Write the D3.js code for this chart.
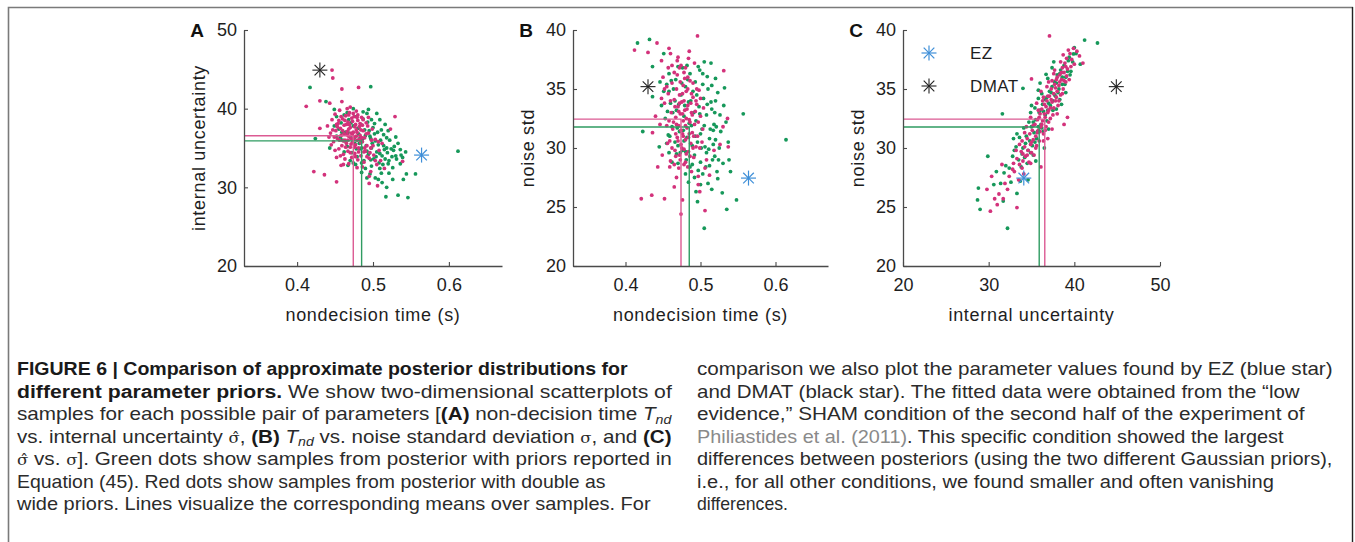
<!DOCTYPE html>
<html><head><meta charset="utf-8">
<script src="https://cdn.jsdelivr.net/npm/d3@7"></script>
<style>body{margin:0;background:#fff}svg{display:block}text{white-space:pre}</style>
</head><body>
<svg id="fig" width="1355" height="542"></svg>
<script>
// ---------------- DATA ----------------
// Panel A: [nondecision time, internal uncertainty]
const aPink = [[0.446,44.9],[0.447,43.9],[0.459,42.5],[0.481,42.7],[0.412,40.3],[0.430,41.0],[0.443,40.7],[0.459,40.9],[0.470,40.2],[0.422,32.0],[0.436,31.6],[0.452,30.7],[0.458,32.8],[0.529,39.0],[0.523,37.4],[0.495,30.5],[0.506,30.2],[0.539,33.3],[0.430,37.5],[0.450,34.7],[0.495,31.4],[0.497,32.0],
[0.440,37.8],[0.444,36.9],[0.446,38.6],[0.448,35.8],[0.450,39.3],[0.451,37.2],[0.453,36.2],[0.454,38.1],[0.455,34.9],[0.456,39.8],[0.457,37.5],[0.458,36.6],[0.459,35.3],[0.460,38.7],[0.461,34.2],[0.462,37.9],[0.463,36.0],[0.464,39.1],[0.465,35.6],[0.466,37.1],[0.467,38.3],[0.467,34.6],[0.468,36.5],[0.469,39.5],[0.470,35.1],[0.470,37.6],[0.471,36.2],[0.472,38.8],[0.472,33.8],[0.473,35.7],[0.474,37.0],[0.475,39.0],[0.475,36.4],[0.476,34.3],[0.477,38.0],[0.477,35.4],[0.478,37.3],[0.479,36.0],[0.480,38.5],[0.480,33.5],[0.481,35.0],[0.482,37.7],[0.483,36.6],[0.484,34.0],[0.485,38.9],[0.486,35.8],[0.487,37.2],[0.488,33.2],[0.489,36.3],[0.490,34.6],[0.491,38.2],[0.492,35.3],[0.494,36.9],[0.495,33.7],[0.497,35.0],[0.499,37.4],[0.501,34.1],[0.503,36.1],[0.505,32.9],[0.508,34.7],[0.510,33.4],[0.512,35.6],[0.515,32.4],[0.468,33.0],[0.463,33.6],[0.457,34.0],[0.445,35.4],[0.452,38.0],[0.478,39.7],[0.466,40.0],
[0.462,36.8],[0.465,38.0],[0.468,37.4],[0.471,36.9],[0.473,38.4],[0.476,37.7],[0.479,38.9],[0.482,36.1],[0.484,37.3],[0.487,38.6],[0.464,35.1],[0.467,36.0],[0.470,34.4],[0.473,36.8],[0.476,35.1],[0.479,37.0],[0.481,34.5],[0.484,35.7],[0.486,37.9],[0.489,35.0],[0.491,36.8],[0.493,37.8],[0.496,34.4],[0.498,36.0],[0.500,35.3],[0.460,37.2],[0.456,36.0],[0.453,37.7],[0.449,36.4],[0.458,39.0],[0.463,38.5],[0.469,38.0],[0.474,39.4],[0.480,39.2],[0.485,36.3],[0.488,34.5],[0.492,33.9],[0.477,33.9],[0.471,35.5],[0.466,36.7],[0.461,35.9],[0.474,36.1],[0.478,36.5],[0.483,38.1],[0.468,39.2],[0.455,38.5],[0.447,37.3],[0.442,36.4],[0.494,38.9],[0.503,33.4],[0.507,35.8],[0.486,32.6],[0.479,32.5],[0.461,32.9],[0.452,33.8]];
const aGreen = [[0.417,42.7],[0.497,42.8],[0.424,36.2],[0.438,40.9],[0.449,39.9],[0.452,39.0],[0.492,39.4],[0.498,38.6],[0.509,38.6],[0.505,39.4],[0.514,36.7],[0.518,35.0],[0.527,34.7],[0.536,34.8],[0.537,34.1],[0.531,33.6],[0.520,33.0],[0.536,33.0],[0.509,32.4],[0.511,31.8],[0.521,31.8],[0.544,31.7],[0.518,30.0],[0.517,28.8],[0.533,29.0],[0.546,28.7],[0.496,31.7],[0.467,32.8],[0.485,33.1],[0.443,35.0],[0.612,34.6],[0.556,31.7],
[0.455,37.4],[0.458,38.2],[0.460,36.0],[0.462,39.2],[0.464,37.0],[0.466,35.2],[0.468,38.6],[0.470,36.4],[0.472,34.4],[0.474,37.8],[0.476,35.6],[0.478,39.0],[0.479,33.9],[0.481,36.8],[0.483,34.9],[0.484,38.0],[0.486,36.1],[0.488,33.4],[0.489,37.3],[0.491,35.3],[0.493,38.3],[0.494,34.2],[0.496,36.5],[0.498,35.0],[0.500,37.6],[0.501,33.6],[0.503,35.9],[0.505,34.5],[0.506,37.0],[0.508,33.1],[0.510,36.0],[0.512,34.0],[0.514,35.3],[0.516,33.6],[0.519,34.4],[0.522,36.0],[0.525,33.9],[0.528,35.2],[0.503,31.2],[0.490,32.4],[0.477,32.9],[0.462,34.5],[0.457,36.3],[0.449,37.8],[0.474,40.0],[0.487,39.6],[0.497,36.2],[0.482,35.6],[0.470,33.4],
[0.467,37.0],[0.471,38.2],[0.475,36.2],[0.478,34.9],[0.480,37.5],[0.483,36.3],[0.485,35.0],[0.487,38.7],[0.490,36.6],[0.492,34.6],[0.495,37.2],[0.497,33.5],[0.499,35.6],[0.502,36.8],[0.504,33.9],[0.507,35.4],[0.509,34.3],[0.511,37.3],[0.513,32.9],[0.515,34.8],[0.518,36.3],[0.521,33.4],[0.524,34.9],[0.526,32.5],[0.530,34.0],[0.533,35.6],[0.539,33.8],[0.543,34.5],[0.507,31.0],[0.512,30.6],[0.498,32.7],[0.485,31.9],[0.474,33.1],[0.463,35.9],[0.459,37.0],[0.452,36.5],[0.466,39.5],[0.494,39.9],[0.502,38.1],[0.516,38.0],[0.520,37.2],[0.530,36.4],[0.492,31.2],[0.526,31.0],[0.540,31.0]];
// Panel B: [nondecision time, noise std]
const bPink = [[0.412,38.3],[0.430,38.1],[0.442,38.9],[0.458,38.45],[0.470,37.7],[0.484,37.6],[0.496,39.5],[0.472,36.8],[0.478,36.4],[0.531,36.55],[0.536,32.5],[0.526,30.3],[0.537,30.1],[0.506,28.3],[0.497,26.9],[0.499,26.3],[0.506,24.7],[0.421,25.7],[0.435,26.0],[0.452,25.7],[0.465,26.7],[0.476,25.6],[0.474,24.4],[0.468,27.5],[0.459,28.4],[0.443,28.4],[0.449,29.4],[0.497,27.6],[0.450,36.0],[0.448,37.4],[0.455,35.2],[0.508,29.0],[0.518,29.8],[0.512,27.7],[0.436,31.3],[0.440,32.7],[0.530,31.8],
[0.452,33.8],[0.455,31.9],[0.457,34.6],[0.459,30.6],[0.461,33.0],[0.462,35.5],[0.463,31.6],[0.465,34.1],[0.466,29.8],[0.467,32.6],[0.468,35.0],[0.469,30.9],[0.470,33.5],[0.471,31.9],[0.472,34.5],[0.472,29.4],[0.473,32.9],[0.474,30.3],[0.475,33.9],[0.476,31.2],[0.477,35.3],[0.477,32.3],[0.478,29.9],[0.479,33.2],[0.480,30.7],[0.481,34.8],[0.482,31.7],[0.483,33.6],[0.484,29.7],[0.485,32.4],[0.486,35.7],[0.487,30.4],[0.488,33.0],[0.489,31.3],[0.490,34.3],[0.491,29.2],[0.492,32.0],[0.494,30.1],[0.495,33.7],[0.496,31.0],[0.498,34.9],[0.500,32.7],[0.502,30.5],[0.504,33.4],[0.460,28.9],[0.465,28.6],[0.471,28.3],[0.480,28.8],[0.488,28.0],[0.469,36.2],[0.462,37.0],[0.483,36.0],[0.490,35.5],
[0.468,32.0],[0.471,33.1],[0.474,31.5],[0.476,32.9],[0.478,34.0],[0.480,31.9],[0.482,33.3],[0.484,30.9],[0.486,32.2],[0.488,34.6],[0.470,30.6],[0.473,35.6],[0.475,30.0],[0.477,31.0],[0.479,35.9],[0.481,32.5],[0.483,35.0],[0.485,31.2],[0.487,33.8],[0.489,32.8],[0.491,31.0],[0.493,33.1],[0.495,35.0],[0.497,32.2],[0.499,30.0],[0.464,32.2],[0.466,33.5],[0.460,34.0],[0.458,32.3],[0.456,30.4],[0.462,30.0],[0.467,31.2],[0.472,33.8],[0.476,34.6],[0.481,29.5],[0.486,29.3],[0.490,30.0],[0.473,29.0],[0.467,29.3],[0.478,28.6],[0.483,28.4],[0.494,34.0],[0.500,34.2],[0.503,31.6],[0.469,37.4],[0.474,37.0],[0.480,36.8],[0.465,36.4],[0.457,36.8],[0.460,38.0],[0.485,38.2],[0.492,37.2],[0.452,35.0],[0.448,34.2],[0.446,32.0]];
const bGreen = [[0.416,38.9],[0.432,39.2],[0.451,38.0],[0.436,36.9],[0.436,34.35],[0.423,31.4],[0.505,37.3],[0.499,36.6],[0.509,36.05],[0.523,34.7],[0.532,35.1],[0.557,32.9],[0.614,30.7],[0.515,33.3],[0.517,31.5],[0.537,30.5],[0.538,29.0],[0.519,29.3],[0.540,28.0],[0.523,27.4],[0.529,26.2],[0.496,25.45],[0.505,23.2],[0.535,24.8],[0.548,25.6],[0.484,27.1],[0.480,29.7],[0.457,31.1],[0.525,30.0],[0.512,28.5],[0.503,27.8],[0.515,26.5],[0.494,26.3],[0.446,35.6],[0.448,33.6],[0.445,30.1],[0.526,32.8],
[0.453,32.5],[0.455,35.4],[0.458,29.6],[0.460,33.8],[0.462,31.8],[0.464,35.0],[0.466,30.5],[0.468,33.2],[0.470,28.7],[0.472,31.4],[0.474,34.5],[0.476,29.8],[0.478,32.7],[0.480,35.2],[0.482,30.9],[0.484,33.9],[0.486,28.4],[0.488,31.9],[0.490,34.8],[0.492,29.4],[0.494,32.3],[0.496,30.5],[0.498,33.5],[0.500,28.8],[0.502,31.6],[0.504,34.2],[0.506,30.1],[0.508,32.8],[0.510,35.0],[0.512,30.8],[0.514,33.9],[0.516,29.0],[0.518,32.0],[0.520,30.7],[0.486,36.3],[0.493,35.6],[0.476,36.8],[0.466,34.0],[0.500,31.2],[0.489,30.2],[0.480,27.8],[0.470,30.2],[0.458,34.8],[0.508,29.6],[0.520,34.0],
[0.456,33.1],[0.459,31.0],[0.461,35.7],[0.463,33.0],[0.467,35.8],[0.469,31.7],[0.471,33.7],[0.473,29.6],[0.475,35.5],[0.477,31.5],[0.479,33.6],[0.481,29.0],[0.483,35.8],[0.485,32.1],[0.487,34.0],[0.489,28.6],[0.491,33.0],[0.493,31.0],[0.495,34.5],[0.497,28.1],[0.499,32.9],[0.501,30.0],[0.503,35.4],[0.505,31.9],[0.507,28.4],[0.509,33.7],[0.511,29.9],[0.513,31.6],[0.515,35.3],[0.517,30.3],[0.519,33.0],[0.521,31.8],[0.524,29.0],[0.527,31.4],[0.531,33.6],[0.534,32.2],[0.530,28.7],[0.522,28.0],[0.510,27.0],[0.500,26.9],[0.492,27.5],[0.478,30.6],[0.468,29.5],[0.462,28.8],[0.455,30.4],[0.451,34.8],[0.458,36.3],[0.470,36.9],[0.482,37.0],[0.497,36.9],[0.503,36.3],[0.514,37.2],[0.520,35.9]];
// Panel C: [internal uncertainty, noise std]
const cPink = [[37.1,39.5],[39.9,38.45],[40.3,38.2],[41.0,37.2],[35.0,35.85],[30.35,27.6],[30.2,24.65],[33.3,24.95],[30.7,25.7],[31.7,25.7],[31.2,26.1],[36.1,28.4],[31.55,28.6],[32.9,28.7],[32.2,26.5],[33.5,27.3],[29.8,26.5],[31.0,25.2],[34.7,28.8],[38.8,32.0],[39.2,32.6],[39.5,38.0],[40.6,37.8],[39.1,37.6],[37.0,35.6],
[33.0,28.0],[33.3,29.1],[33.6,28.6],[33.8,29.7],[34.0,28.9],[34.2,30.1],[34.3,29.3],[34.5,30.8],[34.6,29.8],[34.8,31.2],[34.9,30.3],[35.0,29.6],[35.1,31.5],[35.2,30.7],[35.4,32.0],[35.5,31.0],[35.6,30.2],[35.7,32.4],[35.8,31.5],[35.9,30.6],[36.0,32.9],[36.1,31.8],[36.2,33.3],[36.3,32.3],[36.4,31.2],[36.5,33.7],[36.6,32.6],[36.7,31.8],[36.8,34.0],[36.9,33.0],[37.0,32.2],[37.1,34.4],[37.2,33.4],[37.3,35.0],[37.4,33.9],[37.5,32.8],[37.6,34.6],[37.7,35.4],[37.8,34.0],[37.9,35.8],[38.0,34.8],[38.1,33.6],[38.2,35.3],[38.3,36.2],[38.4,34.5],[38.5,35.8],[38.6,36.8],[38.7,35.0],[38.8,36.4],[38.9,37.2],[39.0,35.6],[39.2,36.7],[39.4,35.8],[39.6,36.9],[36.4,34.3],[35.8,33.2],[37.6,36.3],[35.3,29.4],[34.4,31.8],[36.9,30.8],[33.9,30.6],[34.1,27.8],
[34.5,29.4],[35.0,30.5],[35.2,31.9],[35.5,30.0],[35.7,31.3],[35.9,32.6],[36.0,31.4],[36.2,32.0],[36.3,34.0],[36.5,32.9],[36.6,31.5],[36.7,33.5],[36.9,34.4],[37.0,33.2],[37.2,32.5],[37.3,34.1],[37.4,35.7],[37.6,33.4],[37.8,35.1],[37.9,34.3],[38.0,36.0],[38.2,34.0],[38.3,35.6],[38.5,36.4],[38.6,34.6],[38.8,35.7],[39.0,36.9],[39.1,36.1],[39.3,38.3],[39.7,37.5],[40.0,37.1],[38.7,37.9],[38.4,37.3],[37.7,36.6],[36.8,35.2],[36.1,34.8],[35.6,33.8],[34.9,32.6],[34.2,31.3],[33.6,30.3],[33.2,29.8],[32.8,28.2],[32.4,27.6],[31.9,27.0],[34.0,29.5],[36.4,30.6],[37.4,31.6],[38.0,32.9],[33.9,28.3],[34.9,28.7]];
const cGreen = [[41.2,39.15],[42.7,38.9],[39.9,37.97],[40.7,37.1],[36.7,36.24],[36.0,35.5],[34.0,35.06],[35.0,33.6],[31.6,32.9],[29.9,29.3],[28.8,26.6],[28.7,25.6],[29.0,24.8],[31.8,27.9],[31.7,25.5],[32.2,23.2],[33.3,26.15],[33.3,31.2],[38.3,34.1],[40.2,38.0],[39.6,36.5],[37.4,36.8],[35.8,34.9],[32.0,28.5],[33.0,29.8],[34.6,27.3],[30.9,28.0],[32.6,27.1],[33.6,30.9],[37.9,33.3],[39.0,34.7],
[33.5,29.0],[33.8,28.4],[34.0,30.0],[34.2,29.2],[34.4,31.0],[34.6,29.8],[34.8,30.6],[35.0,31.8],[35.1,30.2],[35.3,31.3],[35.5,32.4],[35.6,30.8],[35.8,31.8],[36.0,33.2],[36.1,32.0],[36.3,33.7],[36.4,31.4],[36.6,32.8],[36.8,34.3],[36.9,33.2],[37.1,34.8],[37.2,33.6],[37.4,35.2],[37.5,34.0],[37.7,35.6],[37.8,34.4],[38.0,36.2],[38.2,35.0],[38.4,36.6],[38.6,35.4],[38.8,37.0],[39.0,36.0],[39.3,37.4],[39.5,36.2],[35.4,33.4],[34.7,32.2],[36.2,34.6],[37.0,31.6],[35.2,29.4],
[33.9,29.5],[34.3,30.4],[34.5,28.7],[34.9,29.6],[35.2,32.2],[35.4,30.5],[35.7,31.4],[35.9,33.0],[36.2,31.7],[36.4,33.1],[36.6,34.1],[36.8,32.3],[37.0,33.8],[37.3,34.7],[37.5,33.2],[37.7,34.5],[37.9,35.5],[38.1,34.7],[38.3,36.3],[38.6,36.0],[38.9,35.4],[39.2,36.5],[39.4,37.7],[39.8,37.3],[40.0,38.5],[36.9,35.9],[35.8,34.2],[34.9,33.0],[34.1,31.7],[33.2,30.1],[32.8,29.3],[32.4,28.3],[33.7,27.2],[31.4,27.0],[30.6,26.9],[32.9,30.8],[35.5,28.9],[36.5,30.0],[38.5,33.7],[37.6,37.3]];
// Means over samples: [nondecision time, internal uncertainty, noise std]
const meanPink  = [0.474, 36.55, 32.45];
const meanGreen = [0.485, 35.90, 31.78];
// Reference fits: [nondecision time, internal uncertainty, noise std]
const starEZ   = [0.564, 34.1, 27.45];
const starDMAT = [0.430, 44.9, 35.2];
const legendLabels = ["EZ", "DMAT"];
const tickTnd   = [0.4, 0.5, 0.6];
const tickSigA  = [20, 30, 40, 50];
const tickNoise = [20, 25, 30, 35, 40];
const tickSigC  = [20, 30, 40, 50];
const axisNames = ["nondecision time (s)", "internal uncertainty", "noise std"];

// ---------------- DRAWING ----------------
const svg = d3.select("#fig");
const COL = {green:"#16985a", pink:"#d3327b", gLine:"#2f9c62", pLine:"#dc5a93", blue:"#3f8fd8", black:"#222", axis:"#4a4a4a", text:"#1e1e1e"};
const FONT = "'Liberation Sans', Arial, Helvetica, sans-serif";

// frame
svg.append("path").attr("d","M8.5,542 V7.5 H1353").attr("fill","none").attr("stroke","#7a7a7a").attr("stroke-width",1.6);
svg.append("path").attr("d","M1352.5,7 V542").attr("fill","none").attr("stroke","#222").attr("stroke-width",1.4);

const panels = [
  {letter:"A", x0:244, x1:502, xd:[0.33,0.67], yd:[20,50], xt:tickTnd, yt:tickSigA, xf:d3.format(".1f"), xi:0, yi:1, green:aGreen, pink:aPink},
  {letter:"B", x0:573, x1:828, xd:[0.33,0.67], yd:[20,40], xt:tickTnd, yt:tickNoise, xf:d3.format(".1f"), xi:0, yi:2, green:bGreen, pink:bPink},
  {letter:"C", x0:903, x1:1160, xd:[20,50], yd:[20,40], xt:tickSigC, yt:tickNoise, xf:d3.format("d"), xi:1, yi:2, green:cGreen, pink:cPink, legend:true}
];
const yTop = 30, yBot = 266;

function star(g, cx, cy, r, color, sw){
  [0, 45, 90, 135].forEach(a=>{
    const t = a*Math.PI/180, dx = r*Math.cos(t), dy = r*Math.sin(t);
    g.append("line").attr("x1",cx-dx).attr("y1",cy-dy).attr("x2",cx+dx).attr("y2",cy+dy)
      .attr("stroke",color).attr("stroke-width",sw);
  });
}

panels.forEach(p=>{
  const x = d3.scaleLinear().domain(p.xd).range([p.x0, p.x1]);
  const y = d3.scaleLinear().domain(p.yd).range([yBot, yTop]);
  const g = svg.append("g");

  g.append("g").selectAll("circle").data(p.green).join("circle")
    .attr("cx",d=>x(d[0])).attr("cy",d=>y(d[1])).attr("r",1.9).attr("fill",COL.green);
  g.append("g").selectAll("circle").data(p.pink).join("circle")
    .attr("cx",d=>x(d[0])).attr("cy",d=>y(d[1])).attr("r",1.9).attr("fill",COL.pink);

  [[meanGreen, COL.gLine],[meanPink, COL.pLine]].forEach(([m,c])=>{
    const px = x(m[p.xi]), py = y(m[p.yi]);
    g.append("path").attr("d",`M${x(p.xd[0])},${py}H${px}V${y(p.yd[0])}`)
      .attr("fill","none").attr("stroke",c).attr("stroke-width",1.4);
  });

  star(g, x(starDMAT[p.xi]), y(starDMAT[p.yi]), 7.5, COL.black, 1.1);
  star(g, x(starEZ[p.xi]), y(starEZ[p.yi]), 7.5, COL.blue, 1.2);

  const ax = g.append("g").attr("transform",`translate(0,${yBot})`)
    .call(d3.axisBottom(x).tickValues(p.xt).tickFormat(p.xf).tickSize(-4).tickSizeOuter(0).tickPadding(12));
  const ay = g.append("g").attr("transform",`translate(${p.x0},0)`)
    .call(d3.axisLeft(y).tickValues(p.yt).tickFormat(d3.format("d")).tickSize(-4).tickSizeOuter(0).tickPadding(7));
  [ax, ay].forEach(a=>{
    a.select(".domain").attr("stroke",COL.axis).attr("stroke-width",1.3);
    a.selectAll(".tick line").attr("stroke",COL.axis).attr("stroke-width",1.1);
    a.selectAll(".tick text").attr("fill",COL.text).style("font-family",FONT).style("font-size","18px");
  });

  g.append("text").attr("x",(p.x0+p.x1)/2).attr("y",321).attr("text-anchor","middle")
    .style("font-family",FONT).style("font-size","18px").style("letter-spacing","0.7px").attr("fill",COL.text).text(axisNames[p.xi]);
  g.append("text").attr("transform",`translate(${p.x0-45},${(yTop+yBot)/2}) rotate(-90)`)
    .attr("text-anchor","middle").attr("dominant-baseline","central")
    .style("font-family",FONT).style("font-size","18px").style("letter-spacing","0.7px").attr("fill",COL.text).text(axisNames[p.yi]);
  g.append("text").attr("x",p.x0-47).attr("y",37).attr("text-anchor","middle")
    .style("font-family",FONT).style("font-size","19px").style("font-weight","bold").attr("fill","#111").text(p.letter);

  if(p.legend){
    const lg = g.append("g");
    [[COL.blue, 53],[COL.black, 86]].forEach(([c,ly],i)=>{
      star(lg, p.x0+26, ly, 7.5, c, i===0?1.2:1.1);
      lg.append("text").attr("x",p.x0+67).attr("y",ly).attr("dominant-baseline","central")
        .style("font-family",FONT).style("font-size","17px").style("letter-spacing","0.4px").attr("fill",COL.text).text(legendLabels[i]);
    });
  }
});

// ---------------- CAPTION ----------------
const CAPFONT = "'Liberation Sans Narrow', 'Liberation Sans', Arial, sans-serif";
const leftLines = [
  {end:628, segs:[["FIGURE 6 | Comparison of approximate posterior distributions for","b"]]},
  {end:672, segs:[["different parameter priors.","b"],[" We show two-dimensional scatterplots of",""]]},
  {end:672, segs:[["samples for each possible pair of parameters [",""],["(A)","b"],[" non-decision time ",""],["T","i"],["nd","sub"]]},
  {end:672, segs:[["vs. internal uncertainty ",""],["σ̂","s"],[", ",""],["(B)","b"],[" ",""],["T","i"],["nd","sub"],[" vs. noise standard deviation ",""],["σ","s"],[", and ",""],["(C)","b"]]},
  {end:672, segs:[["σ̂","s"],[" vs. ",""],["σ","s"],["]. Green dots show samples from posterior with priors reported in",""]]},
  {end:606, segs:[["Equation (45). Red dots show samples from posterior with double as",""]]},
  {end:651, segs:[["wide priors. Lines visualize the corresponding means over samples. For",""]]}
];
const rightLines = [
  {end:1333, segs:[["comparison we also plot the parameter values found by EZ (blue star)",""]]},
  {end:1300, segs:[["and DMAT (black star). The fitted data were obtained from the “low",""]]},
  {end:1305, segs:[["evidence,” SHAM condition of the second half of the experiment of",""]]},
  {end:1284, segs:[["Philiastides et al. (2011)","g"],[". This specific condition showed the largest",""]]},
  {end:1333, segs:[["differences between posteriors (using the two different Gaussian priors),",""]]},
  {end:1274, segs:[["i.e., for all other conditions, we found smaller and often vanishing",""]]},
  {end:788,  segs:[["differences.",""]]}
];
function drawColumn(lines, x0){
  lines.forEach((ln,i)=>{
    const yb = 375 + i*22.5;
    const t = svg.append("text").attr("x",0).attr("y",0)
      .style("font-family",CAPFONT).style("font-size","17.5px").attr("fill","#2b2b2b");
    ln.segs.forEach(([s,st])=>{
      const ts = t.append("tspan").text(s);
      if(st==="b") ts.style("font-weight","bold").attr("fill","#1a1a1a");
      if(st==="i") ts.style("font-style","italic");
      if(st==="sub") ts.style("font-style","italic").style("font-size","12px").attr("baseline-shift","-4");
      if(st==="g") ts.attr("fill","#8a8a8a");
      if(st==="s") ts.style("font-family","'DejaVu Serif', serif").style("font-size","14px");
    });
    const w = t.node().getComputedTextLength();
    const sx = (ln.end - x0)/w;
    t.attr("transform",`translate(${x0},${yb}) scale(${sx},1)`);
  });
}
drawColumn(leftLines, 17);
drawColumn(rightLines, 697);
</script>
</body></html>
